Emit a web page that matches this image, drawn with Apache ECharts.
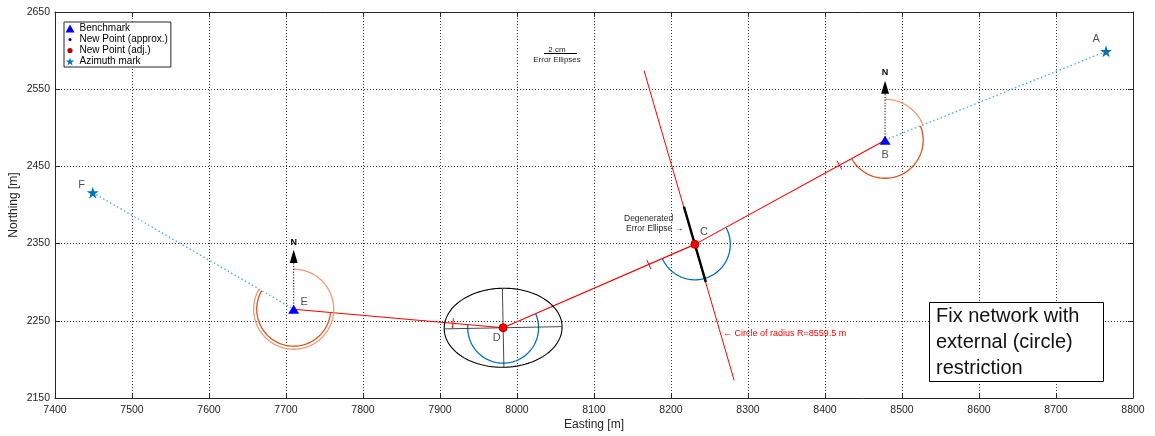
<!DOCTYPE html>
<html>
<head>
<meta charset="utf-8">
<script src="https://cdn.jsdelivr.net/npm/echarts@6/dist/echarts.min.js"></script>
<style>
html,body{margin:0;padding:0;background:#fff;}
#chart{width:1155px;height:436px;}
</style>
</head>
<body>
<div id="chart"></div>
<script>
const FONT = '"Liberation Sans", Arial, Helvetica, sans-serif';
const INK = '#262626';

// Station coordinates [m]
const stationNames    = ['A', 'B', 'C', 'D', 'E', 'F'];
const stationEasting  = [8765, 8478, 8231, 7982, 7710, 7449];
const stationNorthing = [2599, 2484, 2349, 2241, 2265, 2416];

const benchmarks   = ['B', 'E'];
const azimuthMarks = ['A', 'F'];
const newPoints    = ['C', 'D'];
// approximate (pre-adjustment) positions of the new points C, D
const approxEasting  = [8230, 7981];
const approxNorthing = [2350, 2242];

// observed traverse and azimuth sights
const traverse      = ['E', 'D', 'C', 'B'];
const azimuthSights = [['F', 'E'], ['B', 'A']];

// external restriction: circle of radius R through C (drawn as its chord over the plot)
const restrictionRadius   = 8559.5;
const restrictionEasting  = [8165, 8282];
const restrictionNorthing = [2574, 2173];

// error ellipse of D [m, deg], degenerated ellipse of C (half length along circle) [m]
const ellipseD = { a: 76.6, b: 51.2, rotDeg: 1.1 };
const degenerateHalfLength = 51;

// angle arcs: station, from-direction, to-direction (clockwise), radius [m], kind
const angleArcs = [
  ['D', 'C', 'E', 46, 'angle'],
  ['C', 'B', 'D', 46, 'angle'],
  ['B', 'N', 'A', 53, 'azimuth'],
  ['B', 'A', 'C', 49.5, 'direction'],
  ['E', 'N', 'F', 52, 'azimuth'],
  ['E', 'D', 'F', 48, 'direction']
];
const arcColors = { angle: '#0072BD', azimuth: '#EE9A78', direction: '#D95319' };

// station name label offsets [px]
const labelOffsets = { A: [-10, -12], B: [0, 15], C: [9, -12.5], D: [-6.5, 10.5], E: [10.5, -7.5], F: [-11, -8] };

const xTicks = { min: 7400, max: 8800, step: 100 };
const yTicks = { min: 2150, max: 2650, step: 100 };

const STAR = 'path://M50,2 L61.2,36.6 L97.6,36.6 L68.2,58 L79.4,92.6 L50,71.2 L20.6,92.6 L31.8,58 L2.4,36.6 L38.8,36.6 Z';
const DOT  = 'path://M0,0 M10,10 M3,5 A2,2 0 1,0 7,5 A2,2 0 1,0 3,5 Z';

const idx = n => stationNames.indexOf(n);
const xy = n => [stationEasting[idx(n)], stationNorthing[idx(n)]];

function renderDecor(params, api) {
  const children = [];
  const s = api.size([1, 1]);
  const px = n => api.coord(xy(n));
  const azPx = (p, q) => Math.atan2(q[0] - p[0], -(q[1] - p[1])) * 180 / Math.PI;

  // angle / azimuth arcs
  angleArcs.forEach(([at, from, to, r, kind]) => {
    const c = px(at);
    const a0 = from === 'N' ? 0 : azPx(c, px(from));
    const a1 = to === 'N' ? 0 : azPx(c, px(to));
    const sweep = ((a1 - a0) % 360 + 360) % 360;
    const rp = r * s[0];
    const n = Math.max(10, Math.ceil(sweep / 2));
    const pts = [];
    for (let i = 0; i <= n; i++) {
      const t = (a0 + sweep * i / n) * Math.PI / 180;
      pts.push([c[0] + rp * Math.sin(t), c[1] - rp * Math.cos(t)]);
    }
    children.push({ type: 'polyline', shape: { points: pts },
      style: { stroke: arcColors[kind], lineWidth: 1.3, fill: null } });
  });

  // distance tick marks on traverse legs
  for (let i = 0; i < traverse.length - 1; i++) {
    const p0 = px(traverse[i]), p1 = px(traverse[i + 1]);
    const m = [p0[0] + 0.76 * (p1[0] - p0[0]), p0[1] + 0.76 * (p1[1] - p0[1])];
    const L = Math.hypot(p1[0] - p0[0], p1[1] - p0[1]);
    const nx = -(p1[1] - p0[1]) / L * 5, ny = (p1[0] - p0[0]) / L * 5;
    children.push({ type: 'line', shape: { x1: m[0] - nx, y1: m[1] - ny, x2: m[0] + nx, y2: m[1] + ny },
      style: { stroke: '#ff0000', lineWidth: 1 } });
  }

  // error ellipse of D with its axes
  {
    const c = px('D');
    const phi = ellipseD.rotDeg * Math.PI / 180;
    const ap = ellipseD.a * s[0], bp = ellipseD.b * s[1];
    const pts = [];
    for (let i = 0; i <= 120; i++) {
      const t = i / 120 * 2 * Math.PI;
      const ex = ap * Math.cos(t), ey = bp * Math.sin(t);
      pts.push([c[0] + ex * Math.cos(phi) - ey * Math.sin(phi), c[1] - (ex * Math.sin(phi) + ey * Math.cos(phi))]);
    }
    children.push({ type: 'polyline', shape: { points: pts }, style: { stroke: '#000', lineWidth: 1.1, fill: null } });
    const ux = Math.cos(phi), uy = -Math.sin(phi);
    children.push({ type: 'line', shape: { x1: c[0] - ap * ux, y1: c[1] - ap * uy, x2: c[0] + ap * ux, y2: c[1] + ap * uy },
      style: { stroke: '#333', lineWidth: 0.9 } });
    children.push({ type: 'line', shape: { x1: c[0] + bp * uy, y1: c[1] - bp * ux, x2: c[0] - bp * uy, y2: c[1] + bp * ux },
      style: { stroke: '#333', lineWidth: 0.9 } });
  }

  // degenerated error ellipse of C (along the restriction circle)
  {
    const c = px('C');
    const q0 = api.coord([restrictionEasting[0], restrictionNorthing[0]]);
    const q1 = api.coord([restrictionEasting[1], restrictionNorthing[1]]);
    const L = Math.hypot(q1[0] - q0[0], q1[1] - q0[1]);
    const h = degenerateHalfLength * s[0];
    const dx = (q1[0] - q0[0]) / L * h, dy = (q1[1] - q0[1]) / L * h;
    children.push({ type: 'line', shape: { x1: c[0] - dx, y1: c[1] - dy, x2: c[0] + dx, y2: c[1] + dy },
      style: { stroke: '#000', lineWidth: 2.4 } });
  }

  // north arrows at the benchmarks
  benchmarks.forEach(b => {
    const p = xy(b);
    const c = api.coord(p);
    const base = api.coord([p[0], p[1] + 60]);
    const tip = api.coord([p[0], p[1] + 77]);
    const lab = api.coord([p[0], p[1] + 87]);
    children.push({ type: 'line', shape: { x1: c[0], y1: c[1], x2: base[0], y2: base[1] },
      style: { stroke: '#000', lineWidth: 1, lineDash: [1.2, 1.6] } });
    children.push({ type: 'polygon', shape: { points: [[base[0] - 4, base[1]], [base[0] + 4, base[1]], [tip[0], tip[1]]] },
      style: { fill: '#000' } });
    children.push({ type: 'text', x: lab[0], y: lab[1],
      style: { text: 'N', fill: '#000', font: 'bold 9px ' + FONT, align: 'center', verticalAlign: 'middle' } });
  });

  return { type: 'group', children };
}

const chart = echarts.init(document.getElementById('chart'), null, { renderer: 'canvas' });

const axisCommon = {
  axisLine: { show: true, lineStyle: { color: INK, width: 1 } },
  axisTick: { show: true, inside: true, length: 5, lineStyle: { color: INK } }
};
const plain = v => String(v);

chart.setOption({
  animation: false,
  backgroundColor: '#fff',
  textStyle: { fontFamily: FONT },
  grid: { left: 55, right: 22, top: 12, bottom: 38, containLabel: false, outerBoundsMode: 'none' },
  xAxis: [
    Object.assign({
      type: 'value', min: xTicks.min, max: xTicks.max, interval: xTicks.step,
      name: 'Easting [m]', nameLocation: 'middle', nameGap: 21, nameMoveOverlap: false,
      nameTextStyle: { color: INK, fontSize: 12, fontFamily: FONT },
      axisLabel: { color: INK, fontSize: 10.5, margin: 7, fontFamily: FONT, formatter: plain },
      splitLine: { show: true, lineStyle: { color: '#3a3a3a', type: [1, 2], width: 1 } }
    }, axisCommon),
    Object.assign({
      type: 'value', position: 'top', min: xTicks.min, max: xTicks.max, interval: xTicks.step,
      axisLabel: { show: false }, splitLine: { show: false }
    }, axisCommon)
  ],
  yAxis: [
    Object.assign({
      type: 'value', min: yTicks.min, max: yTicks.max, interval: yTicks.step,
      name: 'Northing [m]', nameLocation: 'middle', nameGap: 35, nameRotate: 90, nameMoveOverlap: false,
      nameTextStyle: { color: INK, fontSize: 12, fontFamily: FONT },
      axisLabel: { color: INK, fontSize: 10.5, margin: 5, fontFamily: FONT, formatter: plain },
      splitLine: { show: true, lineStyle: { color: '#3a3a3a', type: [1, 2], width: 1 } }
    }, axisCommon),
    Object.assign({
      type: 'value', position: 'right', min: yTicks.min, max: yTicks.max, interval: yTicks.step,
      axisLabel: { show: false }, splitLine: { show: false }
    }, axisCommon)
  ],
  legend: {
    orient: 'vertical', left: 64, top: 22,
    itemWidth: 9, itemHeight: 8, itemGap: 0,
    padding: [1, 3, 0, 1],
    borderColor: INK, borderWidth: 1, backgroundColor: '#fff',
    textStyle: { color: '#000', fontSize: 10, lineHeight: 11, fontFamily: FONT },
    data: [
      { name: 'Benchmark', icon: 'triangle' },
      { name: 'New Point (approx.)', icon: DOT },
      { name: 'New Point (adj.)', icon: DOT },
      { name: 'Azimuth mark', icon: STAR }
    ]
  },
  graphic: [
    // scale bar for the error ellipses
    { type: 'text', x: 557, y: 50, style: { text: '2 cm', fill: INK, font: '8px ' + FONT, align: 'center', verticalAlign: 'middle' }, z: 10 },
    { type: 'line', shape: { x1: 544, y1: 53.5, x2: 577, y2: 53.5 }, style: { stroke: '#000', lineWidth: 1 }, z: 10 },
    { type: 'text', x: 557, y: 59.5, style: { text: 'Error Ellipses', fill: INK, font: '8px ' + FONT, align: 'center', verticalAlign: 'middle' }, z: 10 },
    // annotations
    { type: 'text', x: 624, y: 218.5, style: { text: 'Degenerated', fill: INK, font: '8.5px ' + FONT, align: 'left', verticalAlign: 'middle' }, z: 10 },
    { type: 'text', x: 626, y: 228.5, style: { text: 'Error Ellipse \u2192', fill: INK, font: '8.5px ' + FONT, align: 'left', verticalAlign: 'middle' }, z: 10 },
    { type: 'text', x: 723, y: 334, style: { text: '\u2190 Circle of radius R=' + restrictionRadius + ' m', fill: '#ff0000', font: '9px ' + FONT, align: 'left', verticalAlign: 'middle' }, z: 10 },
    // title box
    { type: 'rect', shape: { x: 929.5, y: 302.5, width: 174, height: 79 }, style: { fill: '#fff', stroke: '#000', lineWidth: 1 }, z: 10 },
    { type: 'text', x: 936, y: 304, style: { text: 'Fix network with\nexternal (circle)\nrestriction', fill: '#111', font: '20px ' + FONT, lineHeight: 25.8, align: 'left', verticalAlign: 'top' }, z: 11 }
  ],
  series: [
    // azimuth sight lines
    ...azimuthSights.map((pair, i) => ({
      type: 'line', name: 'sight' + i, data: pair.map(xy), showSymbol: false, silent: true, z: 2,
      lineStyle: { color: '#4DAEEA', width: 1.4, type: [1.5, 2.5] }
    })),
    // restriction circle
    {
      type: 'line', name: 'restriction', showSymbol: false, silent: true, z: 2,
      data: restrictionEasting.map((e, i) => [e, restrictionNorthing[i]]),
      lineStyle: { color: '#ff0000', width: 1 }
    },
    // adjusted traverse
    {
      type: 'line', name: 'traverse', showSymbol: false, silent: true, z: 2,
      data: traverse.map(xy),
      lineStyle: { color: '#ff0000', width: 1.1 }
    },
    {
      type: 'custom', name: 'decor', coordinateSystem: 'cartesian2d', silent: true, z: 3,
      data: [[xTicks.min, yTicks.min]],
      renderItem: renderDecor
    },
    {
      type: 'scatter', name: 'Benchmark', symbol: 'triangle', symbolSize: [11, 9], z: 5,
      itemStyle: { color: '#0000ff', opacity: 1 },
      data: benchmarks.map(xy)
    },
    {
      type: 'scatter', name: 'New Point (approx.)', symbol: 'circle', symbolSize: 4, z: 5,
      itemStyle: { color: '#0000ff', opacity: 1 },
      data: approxEasting.map((e, i) => [e, approxNorthing[i]])
    },
    {
      type: 'scatter', name: 'New Point (adj.)', symbol: 'circle', symbolSize: 8, z: 6,
      itemStyle: { color: '#ff0000', borderColor: '#b00000', borderWidth: 1, opacity: 1 },
      data: newPoints.map(xy)
    },
    {
      type: 'scatter', name: 'Azimuth mark', symbol: STAR, symbolSize: 12, z: 5,
      itemStyle: { color: '#0072BD', opacity: 1 },
      data: azimuthMarks.map(xy)
    },
    {
      type: 'scatter', name: 'stationLabels', symbolSize: 0, silent: true, z: 7,
      data: stationNames.map(n => ({
        value: xy(n), name: n,
        label: { show: true, formatter: n, position: 'inside', offset: labelOffsets[n],
          color: INK, fontSize: 11, fontFamily: FONT }
      }))
    }
  ]
});
</script>
</body>
</html>
